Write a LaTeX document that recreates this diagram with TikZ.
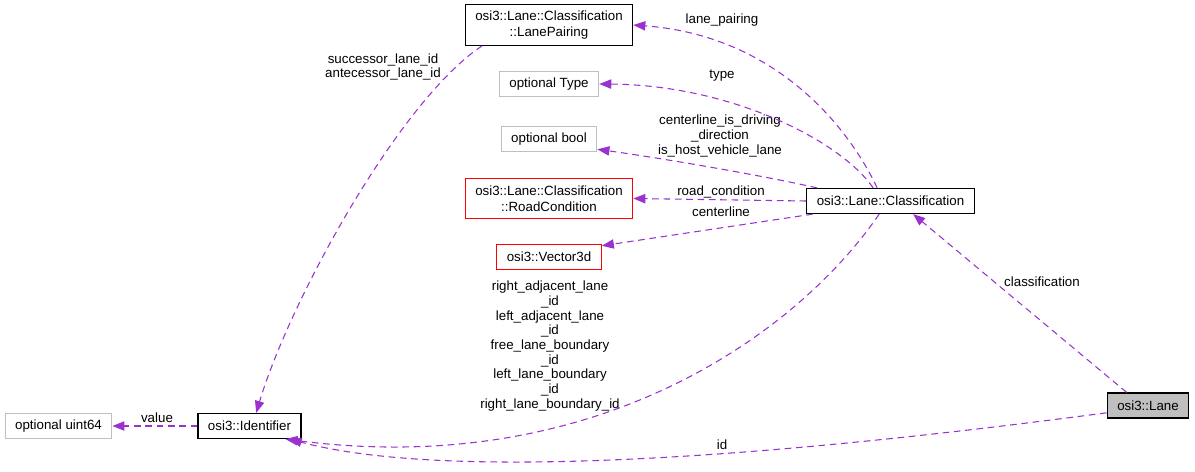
\documentclass[tikz,border=0pt]{standalone}
\usepackage{fontspec}
\setmainfont{Liberation Sans}
\usetikzlibrary{arrows.meta}
\definecolor{edgecol}{RGB}{154,50,205}
\definecolor{boxgrey}{RGB}{191,191,191}
\begin{document}
\begin{tikzpicture}[x=0.75pt, y=-0.75pt, >={Triangle[length=9pt,width=7pt]},
  font=\fontsize{10}{12}\selectfont,
  cbox/.style={draw=black, line width=0.9pt, align=center, inner xsep=7.5pt, inner ysep=2pt, minimum height=18.75pt},
  tall/.style={minimum height=30.5pt},
  gbox/.style={cbox, draw=boxgrey},
  rbox/.style={cbox, draw=red},
  edge/.style={->, draw=edgecol, line width=0.8pt, dash pattern=on 5pt off 3.5pt},
  lbl/.style={align=center, inner sep=0pt, font=\fontsize{10}{11}\selectfont}]
\useasboundingbox (0,0) rectangle (1195,471);
% classes
\node[cbox, tall] (pair) at (549,25) {osi3::Lane::Classification\\::LanePairing};
\node[gbox] (otype) at (549,84) {optional Type};
\node[gbox] (obool) at (549,139) {optional bool};
\node[rbox, tall] (road) at (549,198.5) {osi3::Lane::Classification\\::RoadCondition};
\node[rbox] (vec) at (549,257) {osi3::Vector3d};
\node[cbox] (cls) at (890.5,201) {osi3::Lane::Classification};
\node[cbox, fill=boxgrey] (lane) at (1148,405.5) {osi3::Lane};
\node[cbox] (ident) at (249.5,426) {osi3::Identifier};
\node[gbox] (uint) at (58.5,426) {optional uint64};
% edge labels
\node[lbl] (lpair) at (722,20) {lane\_pairing};
\node[lbl] (ltype) at (722,76) {type};
\node[lbl] (lbool) at (720,136) {centerline\_is\_driving\\\_direction\\is\_host\_vehicle\_lane};
\node[lbl] (lroad) at (721,192) {road\_condition};
\node[lbl] (lvec) at (721,212) {centerline};
\node[lbl] (lids) at (550,346) {right\_adjacent\_lane\\\_id\\left\_adjacent\_lane\\\_id\\free\_lane\_boundary\\\_id\\left\_lane\_boundary\\\_id\\right\_lane\_boundary\_id};
\node[lbl] (lsucc) at (383,67) {successor\_lane\_id\\antecessor\_lane\_id};
\node[lbl] (lval) at (157,418) {value};
\node[lbl] (lcls) at (1042,282) {classification};
\node[lbl] (lid) at (722,445) {id};
% connectors
\draw[edge] ([xshift=-10pt]cls.north) .. controls (845,120) and (770,35) .. (pair.east);
\draw[edge] ([xshift=-13pt]cls.north) .. controls (840,140) and (730,85) .. (otype.east);
\draw[edge] ([xshift=-55pt]cls.north) .. controls (760,175) and (660,158) .. (obool.-12);
\draw[edge] (cls.west) -- (road.east);
\draw[edge] ([xshift=5pt]cls.south west) -- (vec.12);
\draw[edge] ([xshift=-8.5pt]cls.south) .. controls (800,330) and (600,480) .. (ident.-20);
\draw[edge] ([xshift=15pt]lane.north west) -- ([xshift=17pt]cls.south);
\draw[edge] (lane.-170) .. controls (900,440) and (480,490) .. ([xshift=-9pt]ident.south east);
\draw[edge] ([xshift=13pt]pair.south west) .. controls (400,100) and (290,300) .. ([xshift=5pt]ident.north);
\draw[edge] (ident.west) -- (uint.east);
\end{tikzpicture}
\end{document}
